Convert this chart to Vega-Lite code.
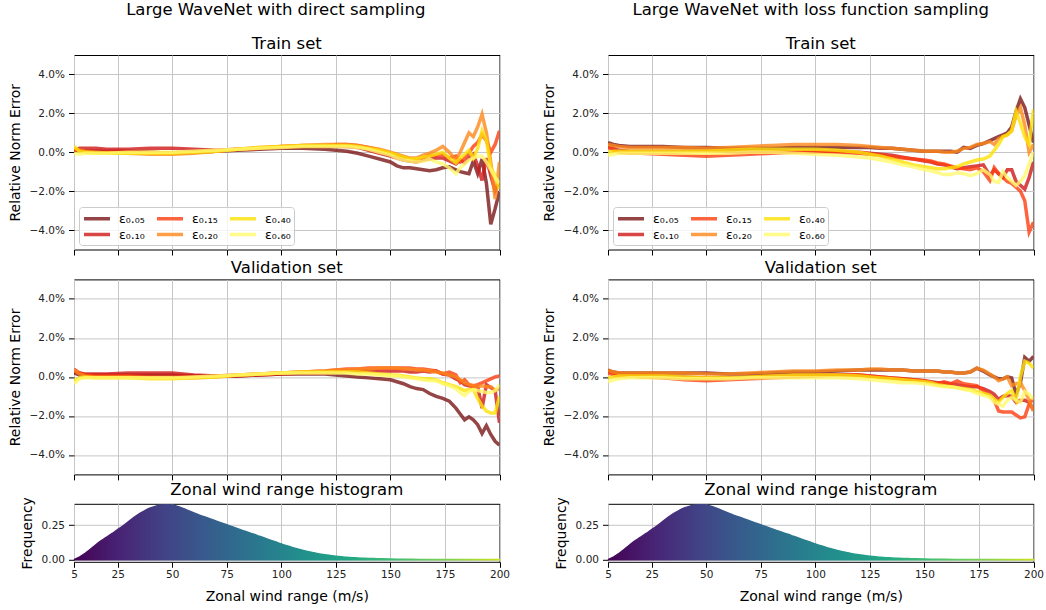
{
"$schema": "https://vega.github.io/schema/vega-lite/v6.json",
"padding": {"left": 7, "top": 2, "right": 0, "bottom": 0},
"config": {
  "font": "DejaVu Sans",
  "view": {"stroke": "black", "strokeWidth": 1},
  "axis": {"grid": true, "gridColor": "#c6c6c6", "gridWidth": 1, "domain": false, "tickColor": "black", "tickSize": 5.5, "tickWidth": 1, "labelFontSize": 10.5, "labelColor": "#222222", "labelPadding": 4, "labelFlush": false, "titleFontSize": 14, "titleFontWeight": "normal", "titleColor": "black", "titlePadding": 7, "labelFont": "DejaVu Sans", "titleFont": "DejaVu Sans"},
  "title": {"font": "DejaVu Sans", "fontSize": 16.5, "fontWeight": "normal", "color": "black", "offset": 3, "baseline": "alphabetic", "frame": "group"},
  "line": {"strokeWidth": 3.5, "opacity": 0.8}
},
"datasets": {
  "hist": [
    {"x":5,"f":0},{"x":7.5,"f":0.018},{"x":10,"f":0.045},{"x":12.5,"f":0.075},{"x":15,"f":0.108},{"x":17.5,"f":0.138},{"x":20,"f":0.163},{"x":22.5,"f":0.19},{"x":25,"f":0.218},{"x":27.5,"f":0.245},{"x":30,"f":0.276},{"x":32.5,"f":0.306},{"x":35,"f":0.333},{"x":37.5,"f":0.356},{"x":40,"f":0.375},{"x":42.5,"f":0.388},{"x":45,"f":0.397},{"x":47.5,"f":0.399},{"x":50,"f":0.396},{"x":52.5,"f":0.386},{"x":55,"f":0.371},{"x":57.5,"f":0.355},{"x":60,"f":0.339},{"x":62.5,"f":0.323},{"x":65,"f":0.309},{"x":67.5,"f":0.295},{"x":70,"f":0.281},{"x":72.5,"f":0.267},{"x":75,"f":0.253},{"x":77.5,"f":0.239},{"x":80,"f":0.225},{"x":82.5,"f":0.211},{"x":85,"f":0.197},{"x":87.5,"f":0.184},{"x":90,"f":0.17},{"x":92.5,"f":0.156},{"x":95,"f":0.142},{"x":97.5,"f":0.128},{"x":100,"f":0.114},{"x":102.5,"f":0.101},{"x":105,"f":0.089},{"x":107.5,"f":0.078},{"x":110,"f":0.067},{"x":112.5,"f":0.058},{"x":115,"f":0.05},{"x":117.5,"f":0.042},{"x":120,"f":0.036},{"x":122.5,"f":0.03},{"x":125,"f":0.026},{"x":127.5,"f":0.022},{"x":130,"f":0.018},{"x":132.5,"f":0.015},{"x":135,"f":0.013},{"x":137.5,"f":0.011},{"x":140,"f":0.009},{"x":142.5,"f":0.008},{"x":145,"f":0.007},{"x":150,"f":0.005},{"x":155,"f":0.004},{"x":160,"f":0.003},{"x":170,"f":0.002},{"x":180,"f":0.002},{"x":190,"f":0.001},{"x":200,"f":0.001}
  ],
  "tl": [
    {"x":5,"a":0.1,"b":0.05,"c":0.15,"d":0.2,"e":0.3,"f":-0.05},
    {"x":7.5,"a":0.05,"b":0.2,"c":0.1,"d":0.1,"e":0.05,"f":-0.1},
    {"x":10,"a":0.05,"b":0.2,"c":0.05,"d":0.05,"e":0,"f":-0.05},
    {"x":15,"a":0.05,"b":0.2,"c":0,"d":0,"e":-0.05,"f":-0.05},
    {"x":20,"a":0.05,"b":0.15,"c":0,"d":-0.05,"e":-0.05,"f":-0.05},
    {"x":30,"a":0.05,"b":0.15,"c":0,"d":-0.05,"e":-0.05,"f":0},
    {"x":40,"a":0,"b":0.2,"c":0,"d":-0.1,"e":-0.05,"f":0},
    {"x":50,"a":-0.05,"b":0.2,"c":-0.05,"d":-0.1,"e":-0.05,"f":0},
    {"x":60,"a":0,"b":0.15,"c":0,"d":-0.05,"e":0,"f":0.05},
    {"x":70,"a":0.05,"b":0.1,"c":0.05,"d":0.05,"e":0.05,"f":0.1},
    {"x":80,"a":0.1,"b":0.15,"c":0.15,"d":0.15,"e":0.15,"f":0.15},
    {"x":90,"a":0.15,"b":0.2,"c":0.2,"d":0.25,"e":0.25,"f":0.2},
    {"x":100,"a":0.2,"b":0.25,"c":0.3,"d":0.3,"e":0.3,"f":0.25},
    {"x":110,"a":0.2,"b":0.3,"c":0.35,"d":0.35,"e":0.35,"f":0.3},
    {"x":120,"a":0.15,"b":0.3,"c":0.35,"d":0.4,"e":0.35,"f":0.3},
    {"x":125,"a":0.1,"b":0.3,"c":0.4,"d":0.4,"e":0.35,"f":0.3},
    {"x":130,"a":0.05,"b":0.3,"c":0.4,"d":0.4,"e":0.35,"f":0.3},
    {"x":135,"a":-0.05,"b":0.25,"c":0.35,"d":0.35,"e":0.3,"f":0.25},
    {"x":140,"a":-0.2,"b":0.1,"c":0.25,"d":0.25,"e":0.2,"f":0.15},
    {"x":145,"a":-0.35,"b":-0.05,"c":0.1,"d":0.15,"e":0.1,"f":0},
    {"x":150,"a":-0.5,"b":-0.2,"c":-0.05,"d":0,"e":-0.05,"f":-0.15},
    {"x":153,"a":-0.7,"b":-0.3,"c":-0.15,"d":-0.1,"e":-0.15,"f":-0.3},
    {"x":156,"a":-0.8,"b":-0.4,"c":-0.25,"d":-0.2,"e":-0.25,"f":-0.4},
    {"x":159,"a":-0.8,"b":-0.45,"c":-0.35,"d":-0.3,"e":-0.35,"f":-0.45},
    {"x":162,"a":-0.85,"b":-0.5,"c":-0.4,"d":-0.3,"e":-0.35,"f":-0.5},
    {"x":165,"a":-0.9,"b":-0.4,"c":-0.3,"d":-0.15,"e":-0.25,"f":-0.45},
    {"x":168,"a":-0.95,"b":-0.35,"c":-0.15,"d":-0.05,"e":-0.2,"f":-0.35},
    {"x":171,"a":-0.9,"b":-0.3,"c":-0.15,"d":0.1,"e":-0.1,"f":-0.5},
    {"x":174,"a":-0.8,"b":-0.3,"c":-0.1,"d":0.3,"e":0,"f":-0.6},
    {"x":177,"a":-0.75,"b":-0.45,"c":-0.3,"d":0,"e":-0.3,"f":-0.8},
    {"x":180,"a":-0.9,"b":-0.6,"c":-0.2,"d":-0.4,"e":-0.55,"f":-1.1},
    {"x":182,"a":-1,"b":-0.4,"c":-0.5,"d":0,"e":-0.3,"f":-0.8},
    {"x":184,"a":-1.05,"b":-0.55,"c":-0.3,"d":0.5,"e":-0.1,"f":-0.6},
    {"x":186,"a":-1.1,"b":-0.3,"c":-0.05,"d":1,"e":0.1,"f":-0.4},
    {"x":188,"a":-0.45,"b":-0.1,"c":0.3,"d":0.8,"e":-0.3,"f":-0.3},
    {"x":190,"a":-1.1,"b":-0.7,"c":0.5,"d":1.3,"e":0.2,"f":-0.2},
    {"x":192,"a":-0.35,"b":-1.45,"c":0.9,"d":1.95,"e":1.1,"f":-0.2},
    {"x":194,"a":-1.6,"b":-0.3,"c":0.6,"d":1,"e":0.6,"f":-0.5},
    {"x":196,"a":-3.7,"b":-1.2,"c":0,"d":-0.5,"e":-0.8,"f":-0.9},
    {"x":198,"a":-2.9,"b":-2,"c":0.4,"d":-2.4,"e":-1.2,"f":-1.3},
    {"x":200,"a":-2,"b":-1.5,"c":1.1,"d":-0.5,"e":-1.9,"f":-1.6}
  ],
  "bl": [
    {"x":5,"a":0.2,"b":0.25,"c":0.4,"d":0.35,"e":-0.2,"f":-0.35},
    {"x":7.5,"a":0.1,"b":0.2,"c":0.2,"d":0.15,"e":-0.05,"f":-0.1},
    {"x":10,"a":0.1,"b":0.15,"c":0.1,"d":0.05,"e":0,"f":-0.05},
    {"x":15,"a":0.1,"b":0.15,"c":0.05,"d":0,"e":-0.05,"f":-0.05},
    {"x":20,"a":0.1,"b":0.15,"c":0.05,"d":0,"e":-0.05,"f":-0.05},
    {"x":30,"a":0.1,"b":0.2,"c":0.05,"d":0,"e":-0.05,"f":-0.05},
    {"x":40,"a":0.1,"b":0.2,"c":0,"d":-0.05,"e":-0.1,"f":-0.05},
    {"x":50,"a":0.1,"b":0.2,"c":0,"d":-0.05,"e":-0.1,"f":-0.05},
    {"x":60,"a":0.05,"b":0.1,"c":0,"d":-0.05,"e":-0.05,"f":0},
    {"x":70,"a":0.05,"b":0.05,"c":0.05,"d":0,"e":0,"f":0.05},
    {"x":80,"a":0.05,"b":0.05,"c":0.1,"d":0.1,"e":0.1,"f":0.1},
    {"x":90,"a":0.1,"b":0.1,"c":0.15,"d":0.15,"e":0.15,"f":0.15},
    {"x":100,"a":0.15,"b":0.15,"c":0.2,"d":0.2,"e":0.2,"f":0.2},
    {"x":110,"a":0.15,"b":0.2,"c":0.25,"d":0.25,"e":0.25,"f":0.2},
    {"x":120,"a":0.15,"b":0.2,"c":0.3,"d":0.3,"e":0.25,"f":0.2},
    {"x":125,"a":0.1,"b":0.25,"c":0.35,"d":0.35,"e":0.25,"f":0.2},
    {"x":130,"a":0.05,"b":0.3,"c":0.4,"d":0.35,"e":0.25,"f":0.2},
    {"x":135,"a":0,"b":0.3,"c":0.4,"d":0.4,"e":0.25,"f":0.15},
    {"x":140,"a":-0.05,"b":0.3,"c":0.45,"d":0.4,"e":0.2,"f":0.15},
    {"x":145,"a":-0.1,"b":0.3,"c":0.45,"d":0.45,"e":0.15,"f":0.1},
    {"x":150,"a":-0.15,"b":0.3,"c":0.45,"d":0.45,"e":0.1,"f":0.05},
    {"x":153,"a":-0.25,"b":0.3,"c":0.45,"d":0.45,"e":0.1,"f":0.05},
    {"x":156,"a":-0.35,"b":0.3,"c":0.45,"d":0.4,"e":0.05,"f":0},
    {"x":159,"a":-0.5,"b":0.25,"c":0.45,"d":0.4,"e":0,"f":-0.05},
    {"x":162,"a":-0.6,"b":0.25,"c":0.4,"d":0.35,"e":-0.05,"f":-0.1},
    {"x":165,"a":-0.65,"b":0.3,"c":0.4,"d":0.35,"e":-0.1,"f":-0.15},
    {"x":168,"a":-0.85,"b":0.25,"c":0.35,"d":0.3,"e":-0.1,"f":-0.2},
    {"x":171,"a":-1,"b":0.3,"c":0.3,"d":0.25,"e":-0.15,"f":-0.2},
    {"x":174,"a":-1.1,"b":0.15,"c":0.15,"d":0.2,"e":-0.3,"f":-0.35},
    {"x":177,"a":-1.25,"b":0.1,"c":0.25,"d":0.1,"e":-0.4,"f":-0.45},
    {"x":180,"a":-1.6,"b":-0.1,"c":0.1,"d":0,"e":-0.5,"f":-0.6},
    {"x":182,"a":-1.9,"b":-0.2,"c":-0.3,"d":-0.15,"e":-0.6,"f":-0.8},
    {"x":184,"a":-2.2,"b":-0.4,"c":-0.15,"d":-0.3,"e":-0.7,"f":-0.95},
    {"x":186,"a":-2.05,"b":-0.45,"c":-0.4,"d":-0.4,"e":-0.65,"f":-0.75},
    {"x":188,"a":-2.2,"b":-0.5,"c":-0.45,"d":-0.45,"e":-0.65,"f":-0.65},
    {"x":190,"a":-2.45,"b":-0.5,"c":-0.4,"d":-0.5,"e":-1.1,"f":-0.7},
    {"x":192,"a":-2.9,"b":-1.6,"c":-0.3,"d":-0.45,"e":-1.5,"f":-0.75},
    {"x":194,"a":-2.5,"b":-0.4,"c":-0.2,"d":-0.5,"e":-1.75,"f":-0.8},
    {"x":196,"a":-2.95,"b":-0.55,"c":-0.1,"d":-0.5,"e":-1.85,"f":-0.8},
    {"x":198,"a":-3.3,"b":-0.7,"c":0,"d":-0.7,"e":-1.85,"f":-0.7},
    {"x":200,"a":-3.5,"b":-2.35,"c":0.05,"d":-0.6,"e":-1,"f":-0.4}
  ],
  "tr": [
    {"x":5,"a":0.5,"b":0.3,"c":0.25,"d":0.4,"e":0,"f":-0.15},
    {"x":7.5,"a":0.4,"b":0.2,"c":0.1,"d":0.35,"e":0.05,"f":-0.1},
    {"x":10,"a":0.35,"b":0.1,"c":0,"d":0.3,"e":0.05,"f":-0.05},
    {"x":15,"a":0.3,"b":0.05,"c":-0.05,"d":0.25,"e":0.05,"f":-0.05},
    {"x":20,"a":0.3,"b":0.05,"c":-0.05,"d":0.25,"e":0.05,"f":-0.05},
    {"x":30,"a":0.3,"b":0.05,"c":-0.1,"d":0.25,"e":0.05,"f":-0.05},
    {"x":40,"a":0.25,"b":0.05,"c":-0.15,"d":0.25,"e":0.05,"f":-0.05},
    {"x":50,"a":0.25,"b":0.05,"c":-0.2,"d":0.2,"e":0.05,"f":-0.05},
    {"x":60,"a":0.2,"b":0.05,"c":-0.15,"d":0.25,"e":0.1,"f":-0.05},
    {"x":70,"a":0.2,"b":0.05,"c":-0.1,"d":0.3,"e":0.15,"f":0},
    {"x":80,"a":0.2,"b":0.05,"c":-0.05,"d":0.35,"e":0.15,"f":0},
    {"x":90,"a":0.25,"b":0.05,"c":0,"d":0.4,"e":0.15,"f":-0.05},
    {"x":100,"a":0.25,"b":0.05,"c":0,"d":0.4,"e":0.15,"f":-0.1},
    {"x":110,"a":0.25,"b":0.05,"c":0,"d":0.4,"e":0.1,"f":-0.15},
    {"x":120,"a":0.25,"b":0,"c":-0.05,"d":0.35,"e":0,"f":-0.25},
    {"x":125,"a":0.25,"b":-0.05,"c":-0.1,"d":0.3,"e":-0.1,"f":-0.3},
    {"x":130,"a":0.2,"b":-0.1,"c":-0.15,"d":0.25,"e":-0.2,"f":-0.4},
    {"x":135,"a":0.2,"b":-0.15,"c":-0.25,"d":0.2,"e":-0.35,"f":-0.5},
    {"x":140,"a":0.15,"b":-0.25,"c":-0.3,"d":0.15,"e":-0.5,"f":-0.65},
    {"x":145,"a":0.1,"b":-0.35,"c":-0.35,"d":0.1,"e":-0.65,"f":-0.75},
    {"x":150,"a":0.05,"b":-0.45,"c":-0.4,"d":0.05,"e":-0.75,"f":-0.9},
    {"x":153,"a":0.05,"b":-0.5,"c":-0.45,"d":0.05,"e":-0.8,"f":-0.95},
    {"x":156,"a":0.05,"b":-0.6,"c":-0.55,"d":0.05,"e":-0.85,"f":-1.05},
    {"x":159,"a":0.05,"b":-0.65,"c":-0.6,"d":0,"e":-0.85,"f":-1.15},
    {"x":162,"a":0.05,"b":-0.75,"c":-0.7,"d":0,"e":-0.8,"f":-1.15},
    {"x":165,"a":0,"b":-0.85,"c":-0.8,"d":0.05,"e":-0.75,"f":-1.05},
    {"x":168,"a":0.25,"b":-0.8,"c":-0.85,"d":0.2,"e":-0.6,"f":-1.1},
    {"x":171,"a":0.2,"b":-0.75,"c":-0.9,"d":0.25,"e":-0.5,"f":-1.2},
    {"x":174,"a":0.35,"b":-0.7,"c":-0.8,"d":0.4,"e":-0.4,"f":-1.1},
    {"x":177,"a":0.45,"b":-0.65,"c":-1,"d":0.45,"e":-0.35,"f":-0.9},
    {"x":180,"a":0.6,"b":-1.2,"c":-1.45,"d":0.55,"e":-0.2,"f":-1.15},
    {"x":182,"a":0.7,"b":-0.9,"c":-0.8,"d":0.4,"e":0.1,"f":-1.5},
    {"x":184,"a":0.8,"b":-1.1,"c":-1.1,"d":0.7,"e":0.4,"f":-1.55},
    {"x":186,"a":0.9,"b":-1.3,"c":-1.3,"d":0.8,"e":0.8,"f":-1},
    {"x":188,"a":1,"b":-0.9,"c":-1.5,"d":0.9,"e":0.9,"f":-1.3},
    {"x":190,"a":1.3,"b":-0.9,"c":-1.6,"d":1.1,"e":1.1,"f":-1.5},
    {"x":192,"a":2.1,"b":-1.5,"c":-1.8,"d":1.9,"e":2.1,"f":-1.7},
    {"x":194,"a":2.75,"b":-1.7,"c":-2,"d":2.3,"e":1.5,"f":-1.5},
    {"x":196,"a":2.3,"b":-1.9,"c":-2.5,"d":1.4,"e":0.8,"f":-1.2},
    {"x":198,"a":1.4,"b":-1.3,"c":-4.1,"d":0,"e":0.4,"f":-0.6},
    {"x":200,"a":0.5,"b":-0.5,"c":-3.6,"d":0.4,"e":2.2,"f":0}
  ],
  "br": [
    {"x":5,"a":0.35,"b":0.3,"c":0.2,"d":0.35,"e":-0.05,"f":-0.25},
    {"x":7.5,"a":0.25,"b":0.2,"c":0.1,"d":0.25,"e":0,"f":-0.15},
    {"x":10,"a":0.2,"b":0.15,"c":0.05,"d":0.2,"e":0.05,"f":-0.1},
    {"x":15,"a":0.2,"b":0.1,"c":0.05,"d":0.2,"e":0.05,"f":-0.05},
    {"x":20,"a":0.2,"b":0.1,"c":0,"d":0.2,"e":0.05,"f":-0.05},
    {"x":30,"a":0.2,"b":0.05,"c":-0.05,"d":0.2,"e":0.05,"f":-0.05},
    {"x":40,"a":0.2,"b":0,"c":-0.15,"d":0.2,"e":0,"f":-0.1},
    {"x":50,"a":0.2,"b":-0.05,"c":-0.2,"d":0.15,"e":-0.05,"f":-0.1},
    {"x":60,"a":0.15,"b":-0.05,"c":-0.15,"d":0.15,"e":-0.05,"f":-0.1},
    {"x":70,"a":0.15,"b":0,"c":-0.1,"d":0.2,"e":0,"f":-0.05},
    {"x":80,"a":0.2,"b":0.05,"c":-0.05,"d":0.25,"e":0.05,"f":-0.05},
    {"x":90,"a":0.25,"b":0.1,"c":0,"d":0.3,"e":0.1,"f":-0.05},
    {"x":100,"a":0.25,"b":0.1,"c":0.05,"d":0.3,"e":0.1,"f":-0.05},
    {"x":110,"a":0.3,"b":0.1,"c":0.1,"d":0.35,"e":0.1,"f":-0.05},
    {"x":120,"a":0.35,"b":0.1,"c":0.1,"d":0.35,"e":0.05,"f":-0.1},
    {"x":125,"a":0.35,"b":0.05,"c":0.05,"d":0.4,"e":0,"f":-0.15},
    {"x":130,"a":0.35,"b":0,"c":0,"d":0.4,"e":-0.05,"f":-0.2},
    {"x":135,"a":0.35,"b":-0.05,"c":-0.05,"d":0.35,"e":-0.1,"f":-0.25},
    {"x":140,"a":0.35,"b":-0.1,"c":-0.1,"d":0.35,"e":-0.15,"f":-0.3},
    {"x":145,"a":0.3,"b":-0.15,"c":-0.15,"d":0.3,"e":-0.2,"f":-0.3},
    {"x":150,"a":0.3,"b":-0.2,"c":-0.2,"d":0.3,"e":-0.25,"f":-0.35},
    {"x":153,"a":0.3,"b":-0.25,"c":-0.3,"d":0.3,"e":-0.3,"f":-0.4},
    {"x":156,"a":0.3,"b":-0.3,"c":-0.35,"d":0.3,"e":-0.4,"f":-0.45},
    {"x":159,"a":0.25,"b":-0.3,"c":-0.25,"d":0.25,"e":-0.45,"f":-0.5},
    {"x":162,"a":0.25,"b":-0.35,"c":-0.35,"d":0.25,"e":-0.5,"f":-0.5},
    {"x":165,"a":0.2,"b":-0.4,"c":-0.2,"d":0.2,"e":-0.55,"f":-0.55},
    {"x":168,"a":0.2,"b":-0.45,"c":-0.35,"d":0.2,"e":-0.6,"f":-0.65},
    {"x":171,"a":0.25,"b":-0.5,"c":-0.4,"d":0.25,"e":-0.65,"f":-0.7},
    {"x":174,"a":0.45,"b":-0.5,"c":-0.45,"d":0.45,"e":-0.75,"f":-0.85},
    {"x":177,"a":0.3,"b":-0.6,"c":-0.7,"d":0.35,"e":-0.85,"f":-0.95},
    {"x":180,"a":0.1,"b":-0.75,"c":-0.95,"d":0.15,"e":-0.95,"f":-1.05},
    {"x":182,"a":0,"b":-0.9,"c":-1.2,"d":0,"e":-1.15,"f":-1.3},
    {"x":184,"a":-0.1,"b":-1.15,"c":-1.75,"d":-0.2,"e":-1.3,"f":-1.4},
    {"x":186,"a":-0.1,"b":-1,"c":-1.8,"d":-0.1,"e":-1.05,"f":-1.5},
    {"x":188,"a":0,"b":-0.95,"c":-1.8,"d":0,"e":-0.85,"f":-1.2},
    {"x":190,"a":-0.05,"b":-1,"c":-1.8,"d":-0.45,"e":-0.7,"f":-1.05},
    {"x":192,"a":-0.9,"b":-1.3,"c":-1.95,"d":-0.35,"e":-1.2,"f":-1.2},
    {"x":194,"a":-0.3,"b":-1.2,"c":-2.1,"d":-0.3,"e":0,"f":-1.3},
    {"x":196,"a":1,"b":-1.2,"c":-2.05,"d":-0.7,"e":0.8,"f":-0.75},
    {"x":198,"a":0.8,"b":-1.3,"c":-1.4,"d":-1.2,"e":0.7,"f":-0.9},
    {"x":200,"a":1.05,"b":-1.7,"c":-1.1,"d":-1.75,"e":0.45,"f":-1.15}
  ]
},
"spacing": 30,
"resolve": {"scale": {"color": "independent", "x": "independent", "y": "independent"}, "legend": {"color": "independent"}},
"hconcat": [
  {
    "title": {"text": "Large WaveNet with direct sampling", "fontSize": 16.5, "anchor": "middle", "frame": "bounds", "offset": 16.5, "dx": 17},
    "spacing": 29.4,
    "bounds": "flush",
    "resolve": {"scale": {"color": "independent", "x": "independent", "y": "independent"}, "legend": {"color": "independent"}},
    "vconcat": [
      {
        "title": "Train set",
        "width": 425.5, "height": 194.5,
        "data": {"name": "tl"},
        "transform": [{"fold": ["a","b","c","d","e","f"], "as": ["s","v"]}],
        "mark": {"type": "line", "clip": true},
        "encoding": {
          "x": {"field": "x", "type": "quantitative", "scale": {"domain": [5,200], "nice": false, "zero": false}, "axis": {"values": [5,25,50,75,100,125,150,175,200], "labels": false, "title": null}},
          "y": {"field": "v", "type": "quantitative", "scale": {"domain": [-5,5], "nice": false}, "axis": {"values": [-4,-2,0,2,4], "title": "Relative Norm Error", "labelExpr": "format(datum.value/100, '.1%')"}},
          "color": {"field": "s", "type": "nominal", "scale": {"domain": ["a","b","c","d","e","f"], "range": ["#7a1616","#cf1818","#fc3d10","#fc881a","#fce206","#fff96d"]},
            "legend": {"orient": "bottom-left", "offset": 5, "columns": 3, "title": null, "symbolType": "M-1,0H3", "symbolSize": 169, "symbolStrokeWidth": 4, "symbolOpacity": 0.8, "labelFontSize": 12.5, "labelFont": "DejaVu Sans", "labelColor": "black", "labelOffset": 20, "fillColor": "rgba(255,255,255,0.8)", "strokeColor": "#cccccc", "cornerRadius": 3, "padding": 3, "rowPadding": 0, "columnPadding": 5,
              "labelExpr": "datum.label == 'a' ? 'ε₀.₀₅' : datum.label == 'b' ? 'ε₀.₁₀' : datum.label == 'c' ? 'ε₀.₁₅' : datum.label == 'd' ? 'ε₀.₂₀' : datum.label == 'e' ? 'ε₀.₄₀' : 'ε₀.₆₀'"}}
        }
      },
      {
        "title": "Validation set",
        "width": 425.5, "height": 195,
        "data": {"name": "bl"},
        "transform": [{"fold": ["a","b","c","d","e","f"], "as": ["s","v"]}],
        "mark": {"type": "line", "clip": true},
        "encoding": {
          "x": {"field": "x", "type": "quantitative", "scale": {"domain": [5,200], "nice": false, "zero": false}, "axis": {"values": [5,25,50,75,100,125,150,175,200], "labels": false, "title": null}},
          "y": {"field": "v", "type": "quantitative", "scale": {"domain": [-5,5], "nice": false}, "axis": {"values": [-4,-2,0,2,4], "title": "Relative Norm Error", "labelExpr": "format(datum.value/100, '.1%')"}},
          "color": {"field": "s", "type": "nominal", "scale": {"domain": ["a","b","c","d","e","f"], "range": ["#7a1616","#cf1818","#fc3d10","#fc881a","#fce206","#fff96d"]}, "legend": null}
        }
      },
      {
        "title": {"text": "Zonal wind range histogram", "dy": 5},
        "width": 425.5, "height": 58,
        "data": {"name": "hist"},
        "mark": {"type": "area", "interpolate": "monotone", "strokeWidth": 1.5,
          "fill": {"gradient": "linear", "x1": 0, "x2": 1, "y1": 0, "y2": 0, "stops": [{"offset": 0, "color": "#440154"}, {"offset": 0.109, "color": "#482475"}, {"offset": 0.217, "color": "#414487"}, {"offset": 0.326, "color": "#355f8d"}, {"offset": 0.435, "color": "#2a788e"}, {"offset": 0.543, "color": "#21918c"}, {"offset": 0.652, "color": "#22a884"}, {"offset": 0.761, "color": "#44bf70"}, {"offset": 0.87, "color": "#7ad151"}, {"offset": 0.978, "color": "#bddf26"}, {"offset": 1, "color": "#c5e021"}]},
          "stroke": {"gradient": "linear", "x1": 0, "x2": 1, "y1": 0, "y2": 0, "stops": [{"offset": 0, "color": "#440154"}, {"offset": 0.109, "color": "#482475"}, {"offset": 0.217, "color": "#414487"}, {"offset": 0.326, "color": "#355f8d"}, {"offset": 0.435, "color": "#2a788e"}, {"offset": 0.543, "color": "#21918c"}, {"offset": 0.652, "color": "#22a884"}, {"offset": 0.761, "color": "#44bf70"}, {"offset": 0.87, "color": "#7ad151"}, {"offset": 0.978, "color": "#bddf26"}, {"offset": 1, "color": "#c5e021"}]}},
        "encoding": {
          "x": {"field": "x", "type": "quantitative", "scale": {"domain": [5,200], "nice": false, "zero": false}, "axis": {"values": [5,25,50,75,100,125,150,175,200], "title": "Zonal wind range (m/s)", "labelPadding": 2.5, "titlePadding": 9}},
          "y": {"field": "f", "type": "quantitative", "scale": {"domain": [-0.015,0.405], "nice": false, "zero": false}, "axis": {"values": [0,0.25], "format": ".2f", "title": "Frequency"}},
          "y2": {"datum": 0}
        }
      }
    ]
  },
  {
    "title": {"text": "Large WaveNet with loss function sampling", "fontSize": 16.5, "anchor": "middle", "frame": "bounds", "offset": 16.5, "dx": 18},
    "spacing": 29.4,
    "bounds": "flush",
    "resolve": {"scale": {"color": "independent", "x": "independent", "y": "independent"}, "legend": {"color": "independent"}},
    "vconcat": [
      {
        "title": "Train set",
        "width": 425.5, "height": 194.5,
        "data": {"name": "tr"},
        "transform": [{"fold": ["a","b","c","d","e","f"], "as": ["s","v"]}],
        "mark": {"type": "line", "clip": true},
        "encoding": {
          "x": {"field": "x", "type": "quantitative", "scale": {"domain": [5,200], "nice": false, "zero": false}, "axis": {"values": [5,25,50,75,100,125,150,175,200], "labels": false, "title": null}},
          "y": {"field": "v", "type": "quantitative", "scale": {"domain": [-5,5], "nice": false}, "axis": {"values": [-4,-2,0,2,4], "title": "Relative Norm Error", "labelExpr": "format(datum.value/100, '.1%')"}},
          "color": {"field": "s", "type": "nominal", "scale": {"domain": ["a","b","c","d","e","f"], "range": ["#7a1616","#cf1818","#fc3d10","#fc881a","#fce206","#fff96d"]},
            "legend": {"orient": "bottom-left", "offset": 5, "columns": 3, "title": null, "symbolType": "M-1,0H3", "symbolSize": 169, "symbolStrokeWidth": 4, "symbolOpacity": 0.8, "labelFontSize": 12.5, "labelFont": "DejaVu Sans", "labelColor": "black", "labelOffset": 20, "fillColor": "rgba(255,255,255,0.8)", "strokeColor": "#cccccc", "cornerRadius": 3, "padding": 3, "rowPadding": 0, "columnPadding": 5,
              "labelExpr": "datum.label == 'a' ? 'ε₀.₀₅' : datum.label == 'b' ? 'ε₀.₁₀' : datum.label == 'c' ? 'ε₀.₁₅' : datum.label == 'd' ? 'ε₀.₂₀' : datum.label == 'e' ? 'ε₀.₄₀' : 'ε₀.₆₀'"}}
        }
      },
      {
        "title": "Validation set",
        "width": 425.5, "height": 195,
        "data": {"name": "br"},
        "transform": [{"fold": ["a","b","c","d","e","f"], "as": ["s","v"]}],
        "mark": {"type": "line", "clip": true},
        "encoding": {
          "x": {"field": "x", "type": "quantitative", "scale": {"domain": [5,200], "nice": false, "zero": false}, "axis": {"values": [5,25,50,75,100,125,150,175,200], "labels": false, "title": null}},
          "y": {"field": "v", "type": "quantitative", "scale": {"domain": [-5,5], "nice": false}, "axis": {"values": [-4,-2,0,2,4], "title": "Relative Norm Error", "labelExpr": "format(datum.value/100, '.1%')"}},
          "color": {"field": "s", "type": "nominal", "scale": {"domain": ["a","b","c","d","e","f"], "range": ["#7a1616","#cf1818","#fc3d10","#fc881a","#fce206","#fff96d"]}, "legend": null}
        }
      },
      {
        "title": {"text": "Zonal wind range histogram", "dy": 5},
        "width": 425.5, "height": 58,
        "data": {"name": "hist"},
        "mark": {"type": "area", "interpolate": "monotone", "strokeWidth": 1.5,
          "fill": {"gradient": "linear", "x1": 0, "x2": 1, "y1": 0, "y2": 0, "stops": [{"offset": 0, "color": "#440154"}, {"offset": 0.109, "color": "#482475"}, {"offset": 0.217, "color": "#414487"}, {"offset": 0.326, "color": "#355f8d"}, {"offset": 0.435, "color": "#2a788e"}, {"offset": 0.543, "color": "#21918c"}, {"offset": 0.652, "color": "#22a884"}, {"offset": 0.761, "color": "#44bf70"}, {"offset": 0.87, "color": "#7ad151"}, {"offset": 0.978, "color": "#bddf26"}, {"offset": 1, "color": "#c5e021"}]},
          "stroke": {"gradient": "linear", "x1": 0, "x2": 1, "y1": 0, "y2": 0, "stops": [{"offset": 0, "color": "#440154"}, {"offset": 0.109, "color": "#482475"}, {"offset": 0.217, "color": "#414487"}, {"offset": 0.326, "color": "#355f8d"}, {"offset": 0.435, "color": "#2a788e"}, {"offset": 0.543, "color": "#21918c"}, {"offset": 0.652, "color": "#22a884"}, {"offset": 0.761, "color": "#44bf70"}, {"offset": 0.87, "color": "#7ad151"}, {"offset": 0.978, "color": "#bddf26"}, {"offset": 1, "color": "#c5e021"}]}},
        "encoding": {
          "x": {"field": "x", "type": "quantitative", "scale": {"domain": [5,200], "nice": false, "zero": false}, "axis": {"values": [5,25,50,75,100,125,150,175,200], "title": "Zonal wind range (m/s)", "labelPadding": 2.5, "titlePadding": 9}},
          "y": {"field": "f", "type": "quantitative", "scale": {"domain": [-0.015,0.405], "nice": false, "zero": false}, "axis": {"values": [0,0.25], "format": ".2f", "title": "Frequency"}},
          "y2": {"datum": 0}
        }
      }
    ]
  }
]
}
